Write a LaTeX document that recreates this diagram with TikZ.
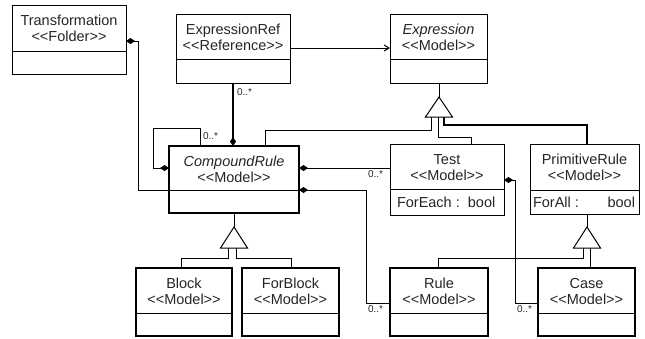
\documentclass[tikz,border=0pt]{standalone}
\usepackage{fontspec}
\setmainfont{Liberation Sans}
\usetikzlibrary{arrows.meta,calc}

\tikzset{
  box/.style={draw=black, line width=1pt, fill=white, inner sep=0pt, outer sep=0pt},
  boldbox/.style={box, line width=2pt},
  divline/.style={draw=black, line width=1pt},
  txt/.style={inner sep=0pt, outer sep=0pt, font=\fontsize{14.5}{16}\selectfont, text=black!85},
  mult/.style={inner sep=0pt, outer sep=0pt, font=\fontsize{10}{12}\selectfont, text=black!85},
  conn/.style={draw=black, line width=1pt},
  heavy/.style={conn, line width=2pt},
  comp/.style={conn, arrows={Diamond[length=9pt,width=6pt]-}},
  compend/.style={arrows={-Diamond[length=9pt,width=6pt]}},
  nav/.style={conn, arrows={-Straight Barb[length=5pt,width=6pt]}},
  gentri/.style={draw=black, line width=1pt, fill=white, line join=miter},
}

% #1 name, #2 box options, #3 (centre x, top y), #4 divider offset,
% #5 class name, #6 stereotype
\newcommand\umlclass[6]{%
  \node[#2, anchor=north] (#1) at (#3) {};
  \draw[divline] ($(#1.north west)+(0,#4)$) -- ($(#1.north east)+(0,#4)$);
  \node[txt, anchor=base] (#1-name) at ($(#1.north)+(0,20)$) {#5};
  \node[txt, anchor=base] (#1-stereo) at ($(#1.north)+(0,36)$) {#6};
}

\begin{document}
\begin{tikzpicture}[x=1pt, y=-1pt]
\useasboundingbox (0,0) rectangle (645,338);

% classes
\umlclass{trans}{box, minimum width=114pt, minimum height=69pt}{69,5}{46}{Transformation}{<{}<Folder>{}>}
\umlclass{exref}{box, minimum width=114pt, minimum height=69pt}{233,14}{45}{ExpressionRef}{<{}<Reference>{}>}
\umlclass{expr}{box, minimum width=97pt, minimum height=69pt}{438.5,14}{45}{\itshape Expression}{<{}<Model>{}>}
\umlclass{cr}{boldbox, minimum width=130pt, minimum height=67pt}{234,146}{44}{\itshape CompoundRule}{<{}<Model>{}>}
\umlclass{test}{box, minimum width=114pt, minimum height=71pt}{447,144}{45}{Test}{<{}<Model>{}>}
\umlclass{prim}{box, minimum width=109pt, minimum height=70pt}{584.5,144}{46}{PrimitiveRule}{<{}<Model>{}>}
\umlclass{block}{boldbox, minimum width=96pt, minimum height=68pt}{184,268}{45}{Block}{<{}<Model>{}>}
\umlclass{forblock}{boldbox, minimum width=97pt, minimum height=68pt}{290.5,268}{45}{ForBlock}{<{}<Model>{}>}
\umlclass{rule}{boldbox, minimum width=98pt, minimum height=68pt}{439,268}{45}{Rule}{<{}<Model>{}>}
\umlclass{case}{boldbox, minimum width=97pt, minimum height=68pt}{586.5,268}{45}{Case}{<{}<Model>{}>}

% attributes
\node[txt, anchor=base west] (test-attr) at ($(test.north west)+(7,63)$) {ForEach :\ \ bool};
\node[txt, anchor=base west] (prim-attr) at ($(prim.north west)+(3,63)$) {ForAll :};
\node[txt, anchor=base east] (prim-type) at ($(prim.north east)+(-4,63)$) {bool};

% Transformation owns CompoundRule
\draw[comp] ($(trans.north east)+(0,36)$) -| ($(cr.north west)+(-31,44)$) -- ($(cr.north west)+(0,44)$);

% CompoundRule owns CompoundRule
\draw[comp] ($(cr.north west)+(0,22)$) -- ++(-16,0) |- ($(cr.north west)+(31,-18)$) -- ($(cr.north west)+(31,0)$);
\node[mult, anchor=west] (m-self) at (203,136) {0..*};

% CompoundRule owns ExpressionRef
\draw[heavy, compend] (exref.south) -- (exref.south |- cr.north);
\node[mult, anchor=west] (m-exref) at (237,92) {0..*};

% ExpressionRef refers to Expression
\draw[nav] ($(exref.north east)+(0,34)$) -- ($(expr.north west)+(0,34)$);

% generalisation of Expression
\coordinate (g1) at ($(expr.south)+(0.5,14)$);
\draw[conn] (expr.south -| g1) -- (g1);
\draw[conn] ($(g1)+(-8,20)$) |- ($(cr.north west)+(96,-16)$) -- ($(cr.north west)+(96,0)$);
\draw[conn] ($(g1)+(-1,20)$) |- ($(test.north west)+(81,-7)$) -- ($(test.north west)+(81,0)$);
\draw[heavy] ($(g1)+(5,20)$) |- ($(prim.north)+(2.5,-19)$) -- ($(prim.north)+(2.5,0)$);
\draw[gentri] (g1) -- ++(-13.5,20) -- ++(27,0) -- cycle;

% CompoundRule owns Test and Rule
\draw[comp] ($(cr.north east)+(0,22)$) -- ($(test.north west)+(0,24)$);
\node[mult, anchor=north west] (m-test) at (368,171) {0..*};
\draw[comp] ($(cr.north east)+(0,44)$) -| ($(rule.north west)+(-24,35)$) -- ($(rule.north west)+(0,35)$);
\node[mult, anchor=north west] (m-rule) at (368,306) {0..*};

% Test owns Case
\draw[comp] ($(test.north east)+(0,36)$) -| ($(case.north west)+(-23,35)$) -- ($(case.north west)+(0,35)$);
\node[mult, anchor=north west] (m-case) at (517,306) {0..*};

% generalisation of PrimitiveRule
\coordinate (g2) at ($(prim.south)+(2.5,13)$);
\draw[conn] (prim.south -| g2) -- (g2);
\draw[conn] ($(g2)+(-4,21)$) |- ($(rule.north)+(-1,-10)$) -- ($(rule.north)+(-1,0)$);
\draw[conn] ($(g2)+(3,21)$) -- ($(case.north)+(3.5,0)$);
\draw[gentri] (g2) -- ++(-13.5,21) -- ++(27,0) -- cycle;

% generalisation of CompoundRule
\coordinate (g3) at ($(cr.south)+(0,14)$);
\draw[conn] (cr.south) -- (g3);
\draw[conn] ($(g3)+(-6,21)$) |- ($(block.north)+(-3,-10)$) -- ($(block.north)+(-3,0)$);
\draw[conn] ($(g3)+(2,21)$) |- ($(forblock.north)+(0.5,-10)$) -- ($(forblock.north)+(0.5,0)$);
\draw[gentri] (g3) -- ++(-13.5,21) -- ++(27,0) -- cycle;
\end{tikzpicture}
\end{document}
